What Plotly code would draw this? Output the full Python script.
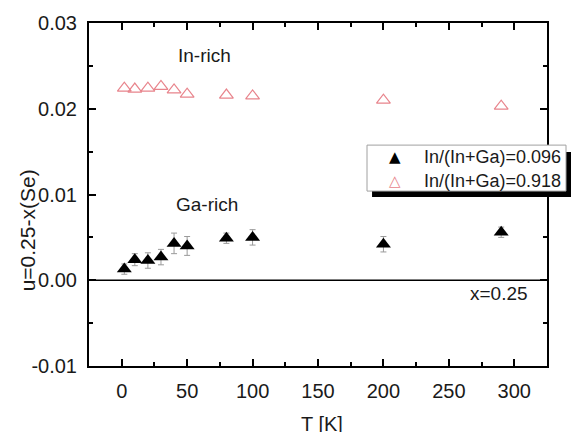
import plotly.graph_objects as go

# Temperature points (K)
temperature = [2, 10, 20, 30, 40, 50, 80, 100, 200, 290]

# Anion displacement u = 0.25 - x(Se)
u_ga_rich = [0.0013, 0.0024, 0.0023, 0.0027, 0.0043, 0.0040, 0.0049, 0.0050, 0.0042, 0.0056]
u_ga_err = [0.0006, 0.0007, 0.0009, 0.0009, 0.0012, 0.0011, 0.0006, 0.0009, 0.0009, 0.0006]
u_in_rich = [0.0224, 0.0223, 0.0224, 0.0226, 0.0222, 0.0217, 0.0216, 0.0215, 0.0210, 0.0203]

label_ga = "In/(In+Ga)=0.096"
label_in = "In/(In+Ga)=0.918"

# y tick labels written with a plain hyphen for the negative value
y_tickvals = [-0.01, 0.0, 0.01, 0.02, 0.03]
y_ticktext = ["-0.01", "0.00", "0.01", "0.02", "0.03"]

FONT = "Liberation Sans, Arial, sans-serif"
INK = "#1a1a1a"
BLACK_MK = "black"
PINK_MK = "#e8848c"

fig = go.Figure()

fig.add_trace(go.Scatter(
    x=temperature, y=u_ga_rich, mode="markers", name=label_ga,
    marker=dict(symbol="triangle-up", size=13, color=BLACK_MK),
    error_y=dict(type="data", array=u_ga_err, visible=True,
                 color="#9a9a9a", thickness=1, width=3),
    showlegend=False,
))

fig.add_trace(go.Scatter(
    x=temperature, y=u_in_rich, mode="markers", name=label_in,
    marker=dict(symbol="triangle-up-open", size=12, color=PINK_MK,
                line=dict(width=1.2, color=PINK_MK)),
    showlegend=False,
))

axis_common = dict(
    showline=True, linecolor="black", linewidth=2, mirror="ticks",
    ticks="inside", ticklen=7, tickwidth=1.5, tickcolor="black",
    showgrid=False, zeroline=False,
    tickfont=dict(family=FONT, size=20, color=INK),
)

fig.update_xaxes(
    range=[-25, 325], tick0=0, dtick=50,
    minor=dict(ticks="inside", ticklen=4, tickwidth=1.5, tickcolor="black", dtick=25, tick0=0),
    ticklabelstandoff=6,
    **axis_common,
)
fig.update_yaxes(
    range=[-0.01, 0.03], tickmode="array", tickvals=y_tickvals, ticktext=y_ticktext,
    minor=dict(ticks="inside", ticklen=4, tickwidth=1.5, tickcolor="black", dtick=0.005),
    ticklabelstandoff=6,
    **axis_common,
)

# reference line at u = 0 (x = 0.25)
fig.add_hline(y=0, line=dict(color="black", width=1.5))

# legend box: black drop shadow, then white framed panel on top
fig.add_shape(type="rect", xref="paper", yref="paper",
              x0=0.618, x1=1.06, y0=0.493, y1=0.624,
              fillcolor="black", line=dict(width=0), layer="above")
fig.add_shape(type="rect", xref="paper", yref="paper",
              x0=0.607, x1=1.0415, y0=0.510, y1=0.644,
              fillcolor="white", line=dict(width=1, color="#a0a0a0"), layer="above")

legend_rows = [
    (label_ga, "\u25B2", BLACK_MK, 0.608),
    (label_in, "\u25B3", PINK_MK, 0.540),
]
for text, glyph, color, yy in legend_rows:
    fig.add_annotation(text=glyph, xref="paper", yref="paper", x=0.668, y=yy,
                       showarrow=False, xanchor="center", yanchor="middle",
                       font=dict(family="DejaVu Sans", size=15, color=color))
    fig.add_annotation(text=text, xref="paper", yref="paper", x=0.726, y=yy,
                       showarrow=False, xanchor="left", yanchor="middle",
                       font=dict(family=FONT, size=18, color=INK))

annotations = [
    dict(text="In-rich", x=63, y=0.0262),
    dict(text="Ga-rich", x=65, y=0.0088),
    dict(text="x=0.25", x=288, y=-0.0016),
]
for a in annotations:
    fig.add_annotation(text=a["text"], x=a["x"], y=a["y"], xref="x", yref="y",
                       showarrow=False, font=dict(family=FONT, size=19, color=INK))

fig.add_annotation(text="u=0.25-x(Se)", xref="paper", yref="paper",
                   x=-0.163, y=0.395, textangle=-90, showarrow=False,
                   font=dict(family=FONT, size=21, color=INK))
fig.add_annotation(text="T [K]", xref="paper", yref="paper",
                   x=0.508, y=-0.17, showarrow=False, yanchor="middle",
                   font=dict(family=FONT, size=20, color=INK))

fig.update_layout(
    width=571, height=432,
    margin=dict(l=89, r=24, t=23, b=66),
    paper_bgcolor="white", plot_bgcolor="white",
    showlegend=False,
)

fig.write_html("out.html")
